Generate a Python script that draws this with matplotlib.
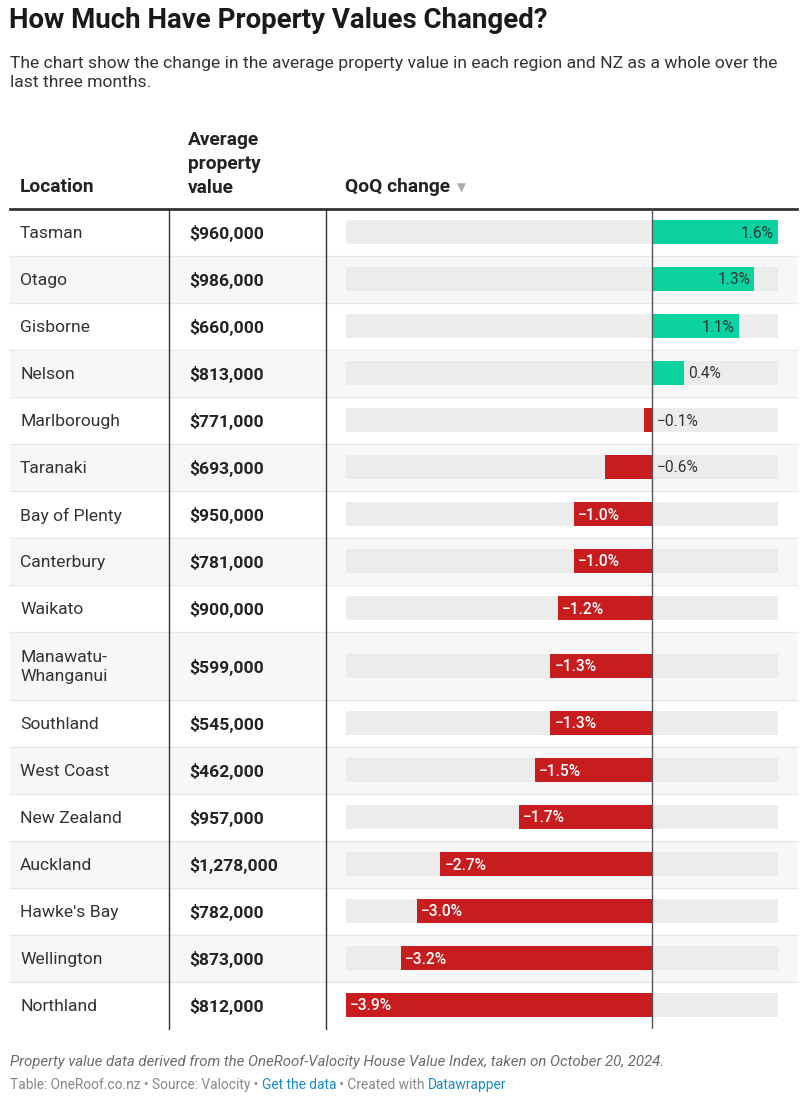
import matplotlib.pyplot as plt
from matplotlib.patches import Rectangle

plt.rcParams['font.family'] = ['Roboto', 'DejaVu Sans']

locations = ["Tasman", "Otago", "Gisborne", "Nelson", "Marlborough", "Taranaki",
             "Bay of Plenty", "Canterbury", "Waikato", "Manawatu-\nWhanganui",
             "Southland", "West Coast", "New Zealand", "Auckland", "Hawke's Bay",
             "Wellington", "Northland"]
values = ["$960,000", "$986,000", "$660,000", "$813,000", "$771,000", "$693,000",
          "$950,000", "$781,000", "$900,000", "$599,000", "$545,000", "$462,000",
          "$957,000", "$1,278,000", "$782,000", "$873,000", "$812,000"]
qoq = [1.6, 1.3, 1.1, 0.4, -0.1, -0.6, -1.0, -1.0, -1.2, -1.3, -1.3, -1.5,
       -1.7, -2.7, -3.0, -3.2, -3.9]

GREEN = "#0bd3a0"
RED = "#c71d1f"
W, H = 800, 1096
FS = 12.6

fig = plt.figure(figsize=(W / 100, H / 100), dpi=100)
ax0 = fig.add_axes([0, 0, 1, 1])
ax0.set_xlim(0, W)
ax0.set_ylim(H, 0)
ax0.axis("off")

# title + description
ax0.text(9, 21, "How Much Have Property Values Changed?", fontsize=19.9,
         fontweight="bold", color="#1a1a1a", va="center")
ax0.text(10, 73, "The chart show the change in the average property value in each region and NZ as a whole over the\nlast three months.",
         fontsize=12.6, color="#333333", va="center", linespacing=1.3)

# header
ax0.text(20, 187, "Location", fontsize=13.8, fontweight="bold", color="#222222", va="center")
ax0.text(188, 164, "Average\nproperty\nvalue", fontsize=13.8, fontweight="bold",
         color="#222222", va="center", linespacing=1.42)
ax0.text(345, 187, "QoQ change", fontsize=13.8, fontweight="bold", color="#222222", va="center")
ax0.text(457, 188, "▼", fontsize=8.5, color="#aaaaaa", va="center")

# rows
row_h = [68 if "\n" in loc else 47 for loc in locations]
top = 208.5
centers = []
y = top
for i, h in enumerate(row_h):
    if i % 2 == 1:
        ax0.add_patch(Rectangle((10, y), 787, h, color="#f7f7f7", lw=0, zorder=0))
    centers.append(y + h / 2)
    y += h
    if i < len(row_h) - 1:
        ax0.plot([10, 797], [y, y], color="#e8e8e8", lw=1, zorder=1)
bottom = y

ax0.plot([10, 797], [top, top], color="#333333", lw=2, zorder=3)
for xv in (168.5, 325.5):
    ax0.plot([xv, xv], [top, bottom], color="#333333", lw=1, zorder=3)

for c, loc, val in zip(centers, locations, values):
    ax0.text(20, c + 1.5, loc, fontsize=FS, color="#333333", va="center", linespacing=1.35)
    ax0.text(189, c + 1.5, val, fontsize=FS, fontweight="bold", color="#222222", va="center")

# bars
lo, hi = min(qoq), max(qoq)
axb = fig.add_axes([346 / W, 1 - bottom / H, (778 - 346) / W, (bottom - top) / H])
axb.set_xlim(lo, hi)
axb.set_ylim(bottom, top)
axb.axis("off")
axb.patch.set_alpha(0)

axb.barh(centers, [hi - lo] * len(centers), left=lo, height=24, color="#ececec", zorder=1)
axb.barh(centers, qoq, height=24, color=[GREEN if v > 0 else RED for v in qoq], zorder=2)
axb.axvline(0, color="#555555", lw=1, zorder=3)

LFS = 11.2
for c, v in zip(centers, qoq):
    txt = f"{v:.1f}%".replace("-", "\u2212")
    cy = c + 1
    if v > 0 and v >= 0.9:
        axb.annotate(txt, (v, cy), xytext=(-3, 0), textcoords="offset points",
                     ha="right", va="center", fontsize=LFS, color="#333333", zorder=4)
    elif v > 0:
        axb.annotate(txt, (v, cy), xytext=(3, 0), textcoords="offset points",
                     ha="left", va="center", fontsize=LFS, color="#333333", zorder=4)
    elif v <= -0.9:
        axb.annotate(txt, (v, cy), xytext=(3, 0), textcoords="offset points",
                     ha="left", va="center", fontsize=LFS, color="white",
                     fontweight="medium", zorder=4)
    else:
        axb.annotate(txt, (0, cy), xytext=(3, 0), textcoords="offset points",
                     ha="left", va="center", fontsize=LFS, color="#333333", zorder=4)

# footer
ax0.text(10, 1062, "Property value data derived from the OneRoof-Valocity House Value Index, taken on October 20, 2024.",
         fontsize=10.8, style="italic", color="#6b6b6b", va="center")
parts = [("Table: OneRoof.co.nz \u2022 Source: Valocity \u2022 ", "#888888"),
         ("Get the data", "#1a8bc9"),
         (" \u2022 Created with ", "#888888"),
         ("Datawrapper", "#1a8bc9")]
fig.canvas.draw()
x = 10
for s, col in parts:
    t = ax0.text(x, 1085, s, fontsize=9.9, color=col, va="center")
    bb = t.get_window_extent(renderer=fig.canvas.get_renderer())
    x += bb.width

fig.savefig("out.png", dpi=100, facecolor="white")
